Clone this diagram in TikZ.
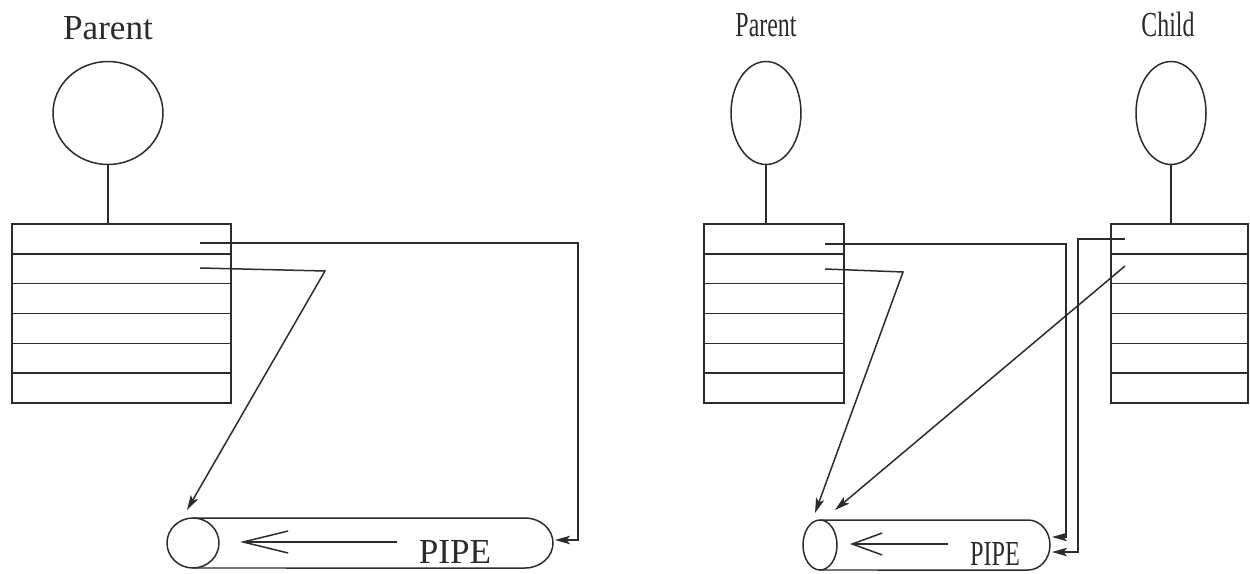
\documentclass[tikz,border=0pt]{standalone}
\usepackage{fontspec}
\setmainfont{Liberation Serif}
\usepackage{tikz}
\usetikzlibrary{shapes.geometric,arrows.meta,calc}
\definecolor{Ink}{HTML}{2B2B2B}

\begin{document}
\begin{tikzpicture}[
  x=0.02cm, y=0.02cm,
  color=Ink, line width=0.85pt,
  proc/.style={ellipse, draw=Ink, inner sep=0pt, outer sep=0pt, minimum height=2.06cm},
  fdtab/.style={rectangle, draw=Ink, inner sep=0pt, outer sep=0pt, minimum height=3.58cm},
  pipeend/.style={ellipse, draw=Ink, inner sep=0pt, outer sep=0pt, minimum height=1.0cm},
  label/.style={anchor=base, font=\fontsize{20}{24}\selectfont, text=Ink, inner sep=0pt},
  link/.style={-{Stealth[length=0.3cm, width=0.17cm, inset=0.07cm]}},
  flow/.style={-{Straight Barb[length=0.9cm, width=0.44cm]}}
]
\useasboundingbox (0,0) rectangle (1250,-574);

% left: one process
\node[label] (lplab) at (108,-40) {Parent};
\node[proc, minimum width=2.2cm] (lpcirc) at (108,-113) {};
\node[fdtab, minimum width=4.38cm] (lptab) at (121.5,-313.5) {};
\draw (lpcirc.south) -- (lpcirc.south |- lptab.north);

\node[pipeend, minimum width=1.04cm] (lpend) at (193,-543) {};
\draw (lpend.north) -- ++(332,0) arc[start angle=90, end angle=-90, x radius=28, y radius=25] -- (lpend.south);
\node[label] (lpipelab) at (455,-563) {PIPE};
\coordinate (lflowA) at (397,-542);
\coordinate (lflowB) at (240,-542);
\draw[flow] (lflowA) -- (lflowB);

\coordinate (lfd0) at (200,-243);
\coordinate (lfd1) at (200,-268);
\coordinate (lpipeR) at (555,-540);
\coordinate (lpipeL) at (187,-510);
\draw[link] (lfd0) -- ++(378,0) |- (lpipeR);
\draw[link] (lfd1) -- (325,-271) -- (lpipeL);

% right: parent and child after fork
\node[label] (rplab) at (766,-37) {\scalebox{0.68}[1]{Parent}};
\node[proc, minimum width=1.4cm] (rpcirc) at (766,-113) {};
\node[fdtab, minimum width=2.8cm] (rptab) at (774,-313.5) {};
\draw (rpcirc.south) -- (rpcirc.south |- rptab.north);

\node[label] (chlab) at (1168,-37) {\scalebox{0.68}[1]{Child}};
\node[proc, minimum width=1.4cm] (chcirc) at (1171,-113) {};
\node[fdtab, minimum width=2.74cm] (chtab) at (1179.5,-313.5) {};
\draw (chcirc.south) -- (chcirc.south |- chtab.north);

\foreach \t in {lptab, rptab, chtab}
  \foreach \r in {1,...,5}
    \draw ($(\t.north west)!\r/6!(\t.south west)$) -- ($(\t.north east)!\r/6!(\t.south east)$);

\node[pipeend, minimum width=0.68cm] (rpend) at (820,-545) {};
\draw (rpend.north) -- ++(208,0) arc[start angle=90, end angle=-90, x radius=22, y radius=25] -- (rpend.south);
\node[label] (rpipelab) at (995,-565) {\scalebox{0.69}[1]{PIPE}};
\coordinate (rflowA) at (948,-544);
\coordinate (rflowB) at (850,-544);
\draw[-{Straight Barb[length=0.6cm, width=0.44cm]}] (rflowA) -- (rflowB);

\coordinate (rpfd0) at (825,-244);
\coordinate (rpfd1) at (825,-269);
\coordinate (chfd0) at (1125,-239);
\coordinate (chfd1) at (1125,-266);
\coordinate (rpipeR0) at (1052,-537);
\coordinate (rpipeR1) at (1052,-552);
\coordinate (rpipeL0) at (815,-513);
\coordinate (rpipeL1) at (835,-510);
\draw[link] (rpfd0) -- ++(241,0) |- (rpipeR0);
\draw[link] (rpfd1) -- (903,-272) -- (rpipeL0);
\draw[link] (chfd0) -- ++(-47,0) |- (rpipeR1);
\draw[link] (chfd1) -- (rpipeL1);
\end{tikzpicture}
\end{document}
